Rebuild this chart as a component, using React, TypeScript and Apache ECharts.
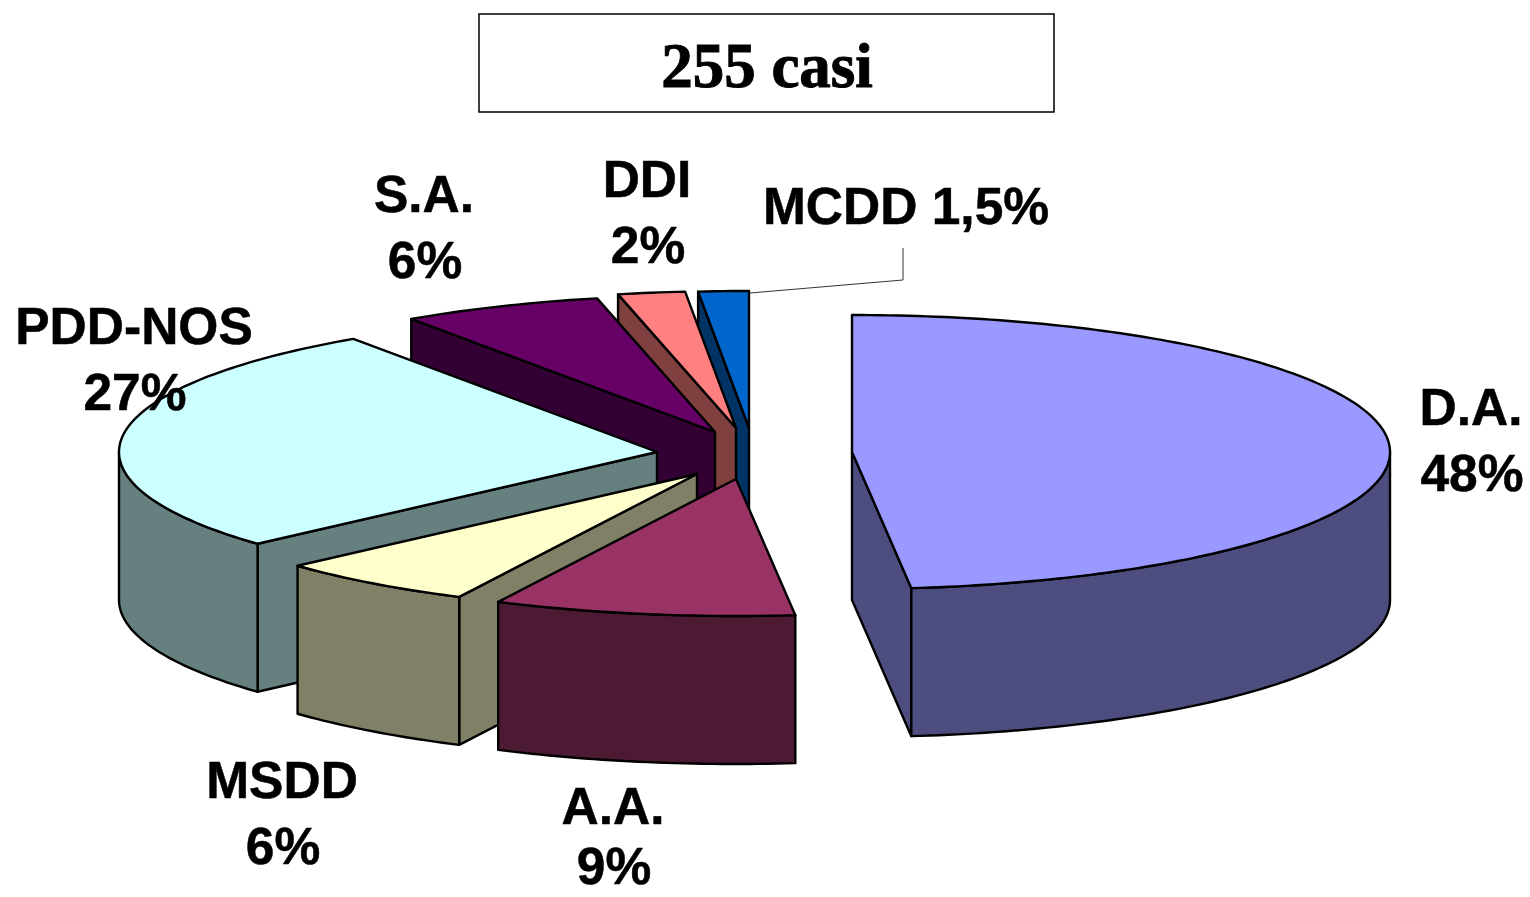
import React, { useEffect, useRef } from "react";
import * as echarts from "echarts";

// Shares of the 255 cases, clockwise from twelve o'clock.
const categories = ["D.A.", "A.A.", "MSDD", "PDD-NOS", "S.A.", "DDI", "MCDD"];
const percentages = [48, 9, 6, 27, 6, 2, 1.5];
const percentLabels = ["48%", "9%", "6%", "27%", "6%", "2%", "1,5%"];
const chartTitle = "255 casi";

// Exploded slice tips, in pixels.
const sliceTipX = [852, 736, 697, 657, 715, 736, 749];
const sliceTipY = [452, 479, 474, 452, 432, 428, 428];

const topColors = ["#9999FF", "#993366", "#FFFFCC", "#CCFFFF", "#660066", "#FF8080", "#0066CC"];
const wallColors = ["#4D4D80", "#4D1A33", "#808066", "#668080", "#330033", "#804040", "#003366"];

// Slices are painted from the back of the pie to the front.
const paintOrder = [6, 5, 4, 3, 2, 1, 0];

// Label anchors (centre x, first-line centre y, gap to the second line).
const labelX = [1471, 613, 282, 134, 424, 647, 906];
const labelY = [407, 806, 780, 326, 194, 179, 206];
const lineGaps = [66, 60, 66, 66, 66, 66, 66];
const singleLineLabel = 6;

const RX = 538;
const RY = 137;
const DEPTH = 148;
const DEG = Math.PI / 180;
const LABEL_FONT = 'bold 51.5px "Liberation Sans", Arial, sans-serif';

const total = percentages.reduce((s, v) => s + v, 0);
const startAngles: number[] = [];
percentages.reduce((acc, v, i) => {
  startAngles[i] = acc;
  return acc + (v / total) * 360;
}, 0);

function rim(i: number, deg: number, drop = 0): number[] {
  return [
    sliceTipX[i] + RX * Math.sin(deg * DEG),
    sliceTipY[i] - RY * Math.cos(deg * DEG) + drop,
  ];
}

function arcPoints(i: number, from: number, to: number, drop = 0): number[][] {
  const pts: number[][] = [];
  const steps = Math.max(2, Math.ceil(to - from));
  for (let k = 0; k <= steps; k++) pts.push(rim(i, from + ((to - from) * k) / steps, drop));
  return pts;
}

function renderSlice(params: any) {
  const i = paintOrder[params.dataIndex];
  const a = startAngles[i];
  const b = a + (percentages[i] / total) * 360;
  const tip = [sliceTipX[i], sliceTipY[i]];
  const tipLow = [tip[0], tip[1] + DEPTH];
  const edge = { stroke: "#000", lineWidth: 2.4, lineJoin: "round" };
  const children: any[] = [];
  const wall = (points: number[][]) =>
    children.push({
      type: "polygon",
      shape: { points },
      style: { fill: wallColors[i], ...edge },
    });

  // Radial walls facing the viewer.
  if (Math.sin(a * DEG) < -1e-6) wall([tip, rim(i, a), rim(i, a, DEPTH), tipLow]);
  if (Math.sin(b * DEG) > 1e-6) wall([tip, rim(i, b), rim(i, b, DEPTH), tipLow]);

  // Outer wall: only the front half of the rim is visible.
  const from = Math.max(a, 90);
  const to = Math.min(b, 270);
  if (to > from) {
    wall([...arcPoints(i, from, to), ...arcPoints(i, from, to, DEPTH).reverse()]);
  }

  // Top face.
  children.push({
    type: "polygon",
    shape: { points: [tip, ...arcPoints(i, a, b)] },
    style: { fill: topColors[i], ...edge },
  });
  return { type: "group", children };
}

function labelText(text: string, x: number, y: number) {
  return {
    type: "text",
    z: 6,
    x,
    y,
    style: {
      text,
      fill: "#000",
      stroke: "#000",
      lineWidth: 0.5,
      font: LABEL_FONT,
      lineHeight: 36,
      align: "center",
      verticalAlign: "middle",
    },
  };
}

function sliceLabels() {
  return categories.flatMap((name, i) =>
    i === singleLineLabel
      ? [labelText(`${name} ${percentLabels[i]}`, labelX[i], labelY[i])]
      : [
          labelText(name, labelX[i], labelY[i]),
          labelText(percentLabels[i], labelX[i] + 1, labelY[i] + lineGaps[i]),
        ],
  );
}

export default function App() {
  const ref = useRef<HTMLDivElement>(null);

  useEffect(() => {
    const chart = echarts.init(ref.current!, null, { renderer: "svg" });
    chart.setOption({
      animation: false,
      backgroundColor: "#fff",
      series: [
        {
          type: "custom",
          coordinateSystem: "none",
          z: 2,
          silent: true,
          renderItem: renderSlice,
          data: paintOrder.map((i) => ({ name: categories[i], value: percentages[i] })),
        },
      ],
      graphic: [
        {
          type: "rect",
          z: 5,
          shape: { x: 479, y: 14, width: 575, height: 98 },
          style: { fill: "#fff", stroke: "#000", lineWidth: 1.5 },
        },
        {
          type: "text",
          z: 6,
          x: 767,
          y: 66,
          style: {
            text: chartTitle,
            fill: "#000",
            stroke: "#000",
            lineWidth: 1,
            font: 'bold 63px "Liberation Serif", "Times New Roman", serif',
            align: "center",
            verticalAlign: "middle",
          },
        },
        {
          type: "polyline",
          z: 5,
          shape: { points: [[903, 248], [903, 280], [750, 293]] },
          style: { fill: "none", stroke: "#333", lineWidth: 1 },
        },
        ...sliceLabels(),
      ],
    });
    return () => chart.dispose();
  }, []);

  return (
    <div
      ref={ref}
      style={{ position: "absolute", left: 0, top: 0, width: 1530, height: 897 }}
    />
  );
}
